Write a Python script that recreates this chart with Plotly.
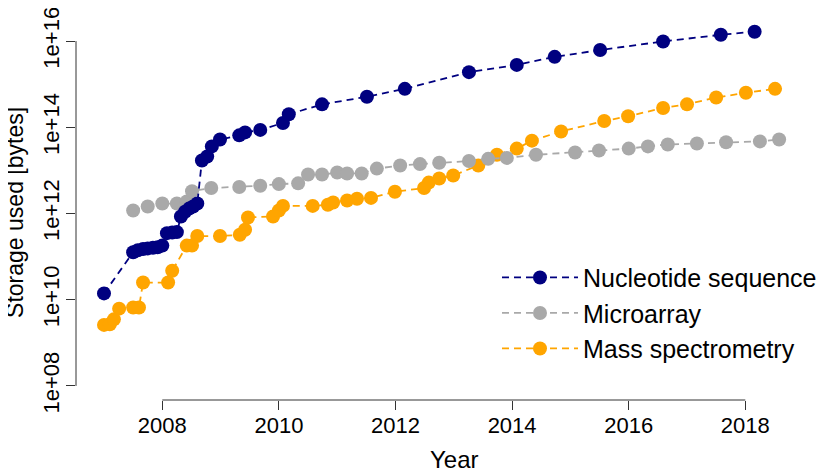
import plotly.graph_objects as go

# ---------------- data ----------------
nuc_year = [2007.00, 2007.50, 2007.58, 2007.67, 2007.75, 2007.84, 2007.92, 2008.00,
            2008.08, 2008.17, 2008.25, 2008.32, 2008.39, 2008.46, 2008.53, 2008.60,
            2008.68, 2008.77, 2008.85, 2008.99, 2009.32, 2009.42, 2009.68, 2010.07,
            2010.17, 2010.74, 2011.51, 2012.16, 2013.26, 2014.08, 2014.73, 2015.51,
            2016.59, 2017.58, 2018.16]
nuc_bytes = [1.4e10, 1.26e11, 1.4e11, 1.5e11, 1.55e11, 1.6e11, 1.65e11, 1.8e11,
             3.5e11, 3.6e11, 3.7e11, 8.5e11, 1.1e12, 1.3e12, 1.45e12, 1.7e12,
             1.7e13, 2.1e13, 3.6e13, 5.2e13, 6.5e13, 7.6e13, 8.7e13, 1.26e14,
             2.0e14, 3.4e14, 5.1e14, 7.8e14, 1.9e15, 2.8e15, 4.3e15, 6.2e15,
             9.8e15, 1.4e16, 1.65e16]

micro_year = [2007.50, 2007.75, 2008.00, 2008.25, 2008.42, 2008.51, 2008.84, 2009.32,
              2009.68, 2010.00, 2010.33, 2010.50, 2010.74, 2011.00, 2011.17, 2011.42,
              2011.68, 2012.08, 2012.42, 2012.75, 2013.26, 2013.59, 2013.91, 2014.41,
              2015.08, 2015.49, 2016.00, 2016.33, 2016.67, 2017.17, 2017.67, 2018.25,
              2018.58]
micro_bytes = [1.17e12, 1.45e12, 1.7e12, 1.7e12, 1.9e12, 3.3e12, 3.9e12, 4.1e12,
               4.4e12, 4.8e12, 5.0e12, 8.0e12, 8.0e12, 8.9e12, 8.5e12, 8.5e12,
               1.1e13, 1.3e13, 1.4e13, 1.5e13, 1.65e13, 1.85e13, 1.95e13, 2.3e13,
               2.6e13, 2.9e13, 3.2e13, 3.6e13, 4.0e13, 4.2e13, 4.5e13, 4.7e13,
               5.2e13]

mass_year = [2007.00, 2007.10, 2007.17, 2007.26, 2007.50, 2007.60, 2007.67, 2008.10,
             2008.17, 2008.42, 2008.51, 2008.60, 2008.99, 2009.33, 2009.42, 2009.47,
             2009.90, 2010.00, 2010.07, 2010.58, 2010.84, 2010.93, 2011.17, 2011.34,
             2011.58, 2011.99, 2012.49, 2012.57, 2012.75, 2012.99, 2013.42, 2013.74,
             2014.08, 2014.34, 2014.84, 2015.58, 2015.99, 2016.59, 2017.00, 2017.50,
             2018.01, 2018.51]
mass_bytes = [2.6e9, 2.7e9, 3.5e9, 6.2e9, 6.6e9, 6.6e9, 2.5e10, 2.5e10,
              4.7e10, 1.8e11, 1.8e11, 3.0e11, 3.0e11, 3.2e11, 4.2e11, 8.1e11,
              8.5e11, 1.17e12, 1.5e12, 1.5e12, 1.6e12, 1.8e12, 2.0e12, 2.2e12,
              2.3e12, 3.2e12, 3.9e12, 5.2e12, 6.5e12, 7.6e12, 1.3e13, 2.3e13,
              3.2e13, 4.9e13, 8.0e13, 1.4e14, 1.8e14, 2.8e14, 3.4e14, 4.9e14,
              6.3e14, 7.8e14]

x_ticks = [2008, 2010, 2012, 2014, 2016, 2018]
y_ticks = [1e8, 1e10, 1e12, 1e14, 1e16]
y_tick_labels = ["1e+08", "1e+10", "1e+12", "1e+14", "1e+16"]

series_names = ["Nucleotide sequence", "Microarray", "Mass spectrometry"]
series_colors = ["#000080", "#A9A9A9", "#FFA500"]

FONT = "Liberation Sans, Arial, Helvetica, sans-serif"

# figure is placed in the page body (8px default margin), so size it to fit
W, H = 818, 462
PL, PB = 68, 70          # plot-area left / bottom margins
PW, PH = W - PL, H - PB  # 750 x 392

fig = go.Figure()
# drawing order: mass spectrometry at the bottom, nucleotide on top
for name, xs, ys, col in [
    (series_names[2], mass_year, mass_bytes, series_colors[2]),
    (series_names[1], micro_year, micro_bytes, series_colors[1]),
    (series_names[0], nuc_year, nuc_bytes, series_colors[0]),
]:
    fig.add_trace(go.Scatter(
        x=xs, y=ys, name=name, mode="lines+markers",
        line=dict(color=col, width=1.8, dash="7px,5px"),
        marker=dict(color=col, size=14, line=dict(width=0)),
    ))

fig.update_layout(
    width=W, height=H,
    margin=dict(l=PL, r=0, t=0, b=PB, pad=0),
    paper_bgcolor="white", plot_bgcolor="white",
    font=dict(family=FONT, color="black"),
    showlegend=True,
    legend=dict(
        traceorder="reversed",
        x=(489 - PL) / PW, xanchor="left",
        y=(PH - 242.5) / PH, yanchor="top",
        font=dict(size=25, family=FONT, color="black"),
        bgcolor="rgba(0,0,0,0)", borderwidth=0,
        itemwidth=76,
    ),
    xaxis=dict(
        range=[2006.52, 2019.384],
        tickvals=x_ticks, ticktext=[str(v) for v in x_ticks],
        ticks="outside", ticklen=9, tickwidth=1, tickcolor="#333",
        showgrid=False, zeroline=False, showline=False,
        ticklabelstandoff=-3,
        tickfont=dict(size=22, family=FONT, color="black"),
    ),
    yaxis=dict(
        type="log", range=[7.673, 16.512],
        tickvals=y_ticks, ticktext=y_tick_labels, tickangle=-90,
        ticks="outside", ticklen=9, tickwidth=1, tickcolor="#333",
        showgrid=False, zeroline=False, showline=False,
        ticklabeloverflow="allow", ticklabelstandoff=-2,
        tickfont=dict(size=22, family=FONT, color="black"),
    ),
)

# R-style axis lines spanning only the tick range
fig.add_shape(type="line", xref="x", yref="paper",
              x0=x_ticks[0], x1=x_ticks[-1], y0=0, y1=0,
              line=dict(color="#333", width=1))
fig.add_shape(type="line", xref="paper", yref="y",
              x0=0, x1=0, y0=y_ticks[0], y1=y_ticks[-1],
              line=dict(color="#333", width=1))

# axis titles
fig.add_annotation(text="Year", xref="paper", yref="paper",
                   x=(446 - PL) / PW, y=0, yshift=-59,
                   xanchor="center", yanchor="middle", showarrow=False,
                   font=dict(size=24, family=FONT, color="black"))
fig.add_annotation(text="Storage used [bytes]", xref="paper", yref="paper",
                   x=0, xshift=-61, y=(PH - 199.5) / PH,
                   xanchor="center", yanchor="middle", textangle=-90,
                   showarrow=False,
                   font=dict(size=23, family=FONT, color="black"))

fig.write_html("out.html")
